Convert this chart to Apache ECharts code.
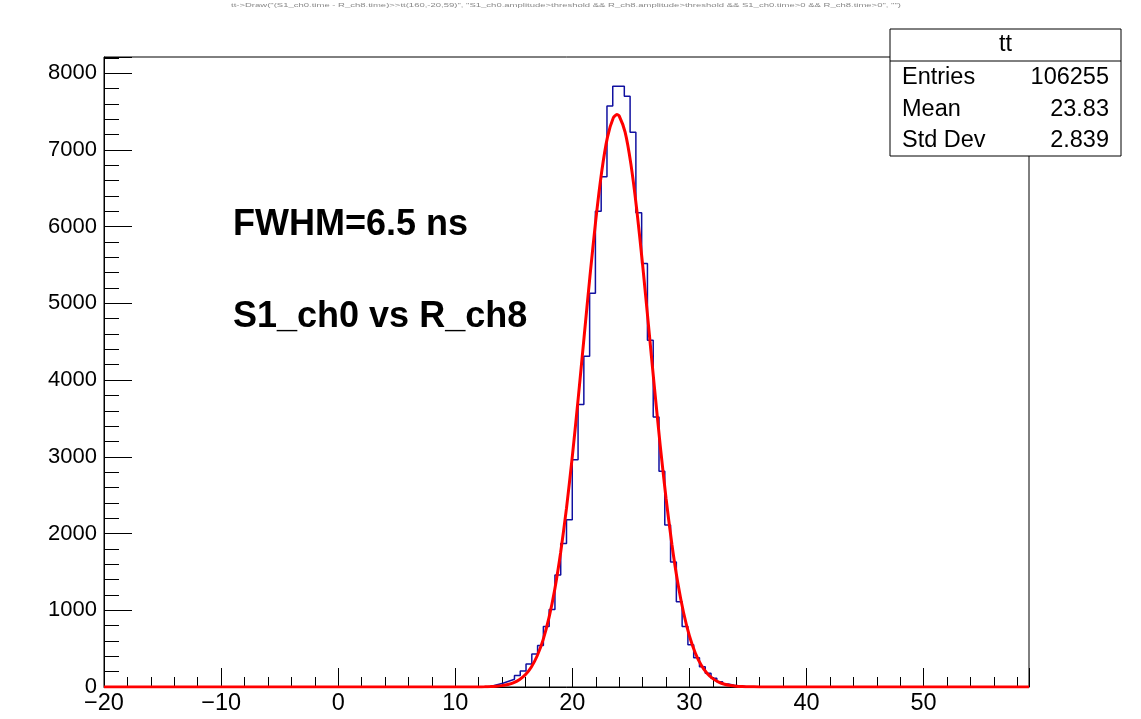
<!DOCTYPE html>
<html>
<head>
<meta charset="utf-8">
<script src="https://cdn.jsdelivr.net/npm/echarts@6/dist/echarts.min.js"></script>
<style>
html,body{margin:0;padding:0;background:#fff;}
#chart{width:1141px;height:719px;}
</style>
</head>
<body>
<div id="chart"></div>
<script>
// ---- data ----
const xMin = -20, xMax = 59, nBins = 160;
const firstBin = 66; // index of first non-empty bin
const histValues = [10,30,50,75,100,150,210,300,430,540,790,1010,1460,1870,2180,2960,3680,4310,5130,6200,6650,7570,7830,7830,7700,7230,6180,5520,4520,3520,2810,2110,1630,1110,790,550,380,265,180,115,70,40,22,12,6,3];
const fitX = [-20,11,12,12.5,13,13.5,14,14.5,15,15.5,16,16.5,17,17.5,18,18.5,19,19.5,20,20.5,21,21.5,22,22.5,23,23.5,23.8,24,24.5,25,25.5,26,26.5,27,27.5,28,28.5,29,29.5,30,30.5,31,31.5,32,32.5,33,33.5,34,34.5,35,36,37,59];
const fitY = [0,0,1,2,5,10,18,32,57,98,162,261,407,614,900,1275,1752,2331,3009,3760,4557,5349,6084,6708,7166,7418,7460,7441,7234,6814,6220,5503,4716,3918,3153,2460,1860,1362,967,665,443,286,179,109,64,36,20,11,6,3,1,0,0];
const yMax = 8210;
const statsTitle = 'tt';
const statsRows = [['Entries','106255'],['Mean','23.83'],['Std Dev','2.839']];
const annot1 = 'FWHM=6.5 ns';
const annot2 = 'S1_ch0 vs R_ch8';
const titleText = 'tt->Draw("(S1_ch0.time - R_ch8.time)>>tt(160,-20,59)", "S1_ch0.amplitude>threshold && R_ch8.amplitude>threshold && S1_ch0.time>0 && R_ch8.time>0", "")';

// ---- build ----
const bw = (xMax - xMin) / nBins;
const histData = [];
for (let k = 0; k < nBins; k++) {
  const i = k - firstBin;
  const v = (i >= 0 && i < histValues.length) ? histValues[i] : 0;
  histData.push([xMin + k * bw, v]);
}
histData.push([xMax, histData[histData.length - 1][1]]);
const fitData = fitX.map((x, i) => [x, fitY[i]]);

const FONT = 'Liberation Sans, Arial, Helvetica, sans-serif';
const FS = 23.5;
const chart = echarts.init(document.getElementById('chart'), null, {renderer: 'canvas'});
const boxL = 890, boxT = 29, boxW = 231, boxH = 127;
const graphics = [
  {type:'rect', shape:{x:boxL, y:boxT, width:boxW, height:boxH}, style:{fill:'#fff', stroke:'#000', lineWidth:1}, z:100},
  {type:'line', shape:{x1:boxL, y1:61, x2:boxL+boxW, y2:61}, style:{stroke:'#000', lineWidth:1}, z:101},
  {type:'text', x:boxL+boxW/2, y:45, style:{text:statsTitle, font:FS+'px '+FONT, fill:'#000', textAlign:'center', textVerticalAlign:'middle'}, z:101},
  {type:'text', left:233, top:207, style:{text:annot1, font:'bold 36px '+FONT, fill:'#000'}, z:101},
  {type:'text', left:233, top:299, style:{text:annot2, font:'bold 36px '+FONT, fill:'#000'}, z:101},
  {type:'text', x:566, y:6, scaleX:1.9, originX:0, originY:0, style:{text:titleText, font:'5px '+FONT, fill:'#888', textAlign:'center', textVerticalAlign:'middle'}, z:101}
];
statsRows.forEach((r, i) => {
  const y = 78 + i * 31.5;
  graphics.push({type:'text', x:902, y:y, style:{text:r[0], font:FS+'px '+FONT, fill:'#000', textAlign:'left', textVerticalAlign:'middle'}, z:101});
  graphics.push({type:'text', x:1109, y:y, style:{text:r[1], font:FS+'px '+FONT, fill:'#000', textAlign:'right', textVerticalAlign:'middle'}, z:101});
});

const option = {
  animation: false,
  backgroundColor: '#fff',
  grid: {left:104, top:57, width:925, height:630, show:true, borderColor:'#000', borderWidth:1, backgroundColor:'transparent'},
  xAxis: {
    type:'value', min:xMin, max:xMax, interval:10,
    axisLine:{show:true, onZero:false, lineStyle:{color:'#000', width:1}},
    axisTick:{show:true, inside:true, length:19, lineStyle:{color:'#000', width:1}},
    minorTick:{show:true, splitNumber:5, length:10, lineStyle:{color:'#000', width:1}},
    splitLine:{show:false},
    axisLabel:{show:true, showMaxLabel:false, margin:5, fontSize:FS, fontFamily:FONT, color:'#000',
      formatter: v => (v < 0 ? '\u2212' + (-v) : String(v))}
  },
  yAxis: {
    type:'value', min:0, max:yMax, interval:1000,
    axisLine:{show:true, onZero:false, lineStyle:{color:'#000', width:1}},
    axisTick:{show:true, inside:true, length:28, lineStyle:{color:'#000', width:1}},
    minorTick:{show:true, splitNumber:5, length:15, lineStyle:{color:'#000', width:1}},
    splitLine:{show:false},
    axisLabel:{show:true, showMaxLabel:false, margin:7, fontSize:22, fontFamily:FONT, color:'#000',
      formatter: v => String(v)}
  },
  series: [
    {type:'line', name:'tt', data:histData, step:'end', symbol:'none', silent:true,
      lineStyle:{color:'#1010a0', width:1.5}, z:2, clip:true},
    {type:'line', name:'fit', data:fitData, symbol:'none', smooth:0.2, silent:true,
      lineStyle:{color:'#ff0000', width:3}, z:3, clip:true}
  ],
  graphic: graphics
};
chart.setOption(option);
</script>
</body>
</html>
